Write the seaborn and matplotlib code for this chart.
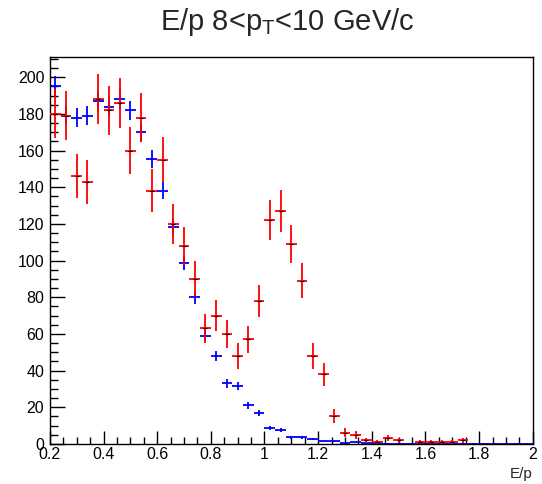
import numpy as np
import pandas as pd
import matplotlib
matplotlib.use("Agg")
import matplotlib.pyplot as plt
import seaborn as sns

# -------------------------------
# Data
# -------------------------------
bin_width = 0.04
bin_centers = np.round(np.arange(0.22, 2.0, bin_width), 2)   # 45 bins, 0.2 -> 2.0

# red: raw counts, sqrt(N) errors
red_counts = [180, 179, 146, 143, 188, 182, 186, 160, 178, 138,
              155, 120, 108, 90, 63, 70, 60, 48, 57, 78,
              122, 127, 109, 89, 48, 38, 15, 6, 5, 2,
              1, 3, 2, 0, 1, 1, 1, 1, 2, 0,
              0, 0, 0, 0, 0]
red_errors = [13.4, 13.4, 12.1, 12.0, 13.7, 13.5, 13.6, 12.6, 13.3, 11.7,
              12.4, 11.0, 10.4, 9.5, 7.9, 8.4, 7.7, 6.9, 7.5, 8.8,
              11.0, 11.3, 10.4, 9.4, 6.9, 6.2, 3.9, 2.4, 2.2, 1.4,
              1.0, 1.7, 1.4, 0.0, 1.0, 1.0, 1.0, 1.0, 1.4, 0.0,
              0.0, 0.0, 0.0, 0.0, 0.0]

# blue: scaled histogram
blue_counts = [195, 179, 178, 179, 187, 184, 188, 182, 170, 155.5,
               138, 118.5, 98.5, 80, 59, 48, 33, 31.6, 21, 17,
               8.7, 7.3, 3.6, 3.6, 2.5, 1.3, 1.3, 0.3, 0.8, 0.2,
               0.2, 0.15, 0.15, 0.15, 0.15, 0.15, 0.15, 0.15, 0.15, 0.15,
               0.15, 0.15, 0.15, 0.15, 0.15]
blue_errors = [5.5, 5.2, 5.2, 5.2, 5.4, 5.3, 5.4, 5.3, 5.1, 4.9,
               4.6, 4.3, 3.9, 3.5, 3.0, 2.7, 2.3, 2.2, 1.8, 1.6,
               1.2, 1.1, 0.7, 0.7, 0.6, 0.4, 0.4, 0.2, 0.35, 0.2,
               0.2, 0.15, 0.15, 0.15, 0.15, 0.15, 0.15, 0.15, 0.15, 0.15,
               0.15, 0.15, 0.15, 0.15, 0.15]

df = pd.DataFrame({
    "Ep": bin_centers,
    "red": red_counts, "red_err": red_errors,
    "blue": blue_counts, "blue_err": blue_errors,
})
red_df = df[df["red"] > 0]

# -------------------------------
# Plot
# -------------------------------
sns.set_style("ticks")
plt.rcParams["font.family"] = ["Liberation Sans", "DejaVu Sans"]
plt.rcParams["mathtext.fontset"] = "custom"
plt.rcParams["mathtext.rm"] = "Liberation Sans"
plt.rcParams["mathtext.it"] = "Liberation Sans"

fig = plt.figure(figsize=(5.42, 4.84), dpi=100)
ax = fig.add_axes([0.092, 0.083, 0.891, 0.799])

ax.errorbar(df["Ep"], df["blue"], xerr=bin_width / 2, yerr=df["blue_err"],
            fmt="none", ecolor="#0000ff", elinewidth=1.3, capsize=0, zorder=2)
ax.errorbar(red_df["Ep"], red_df["red"], xerr=bin_width / 2, yerr=red_df["red_err"],
            fmt="none", ecolor="#ff0000", elinewidth=1.3, capsize=0, zorder=3)
# small black markers at bin centres (ROOT default marker)
sns.scatterplot(data=red_df, x="Ep", y="red", marker="_", color="black",
                s=12, linewidth=0.8, ax=ax, zorder=4, legend=False)

ax.set_xlim(0.2, 2.0)
ax.set_ylim(0, 211)
ax.set_xticks(np.arange(0.2, 2.01, 0.2))
ax.set_xticklabels(["0.2", "0.4", "0.6", "0.8", "1", "1.2", "1.4", "1.6", "1.8", "2"])
ax.set_xticks(np.arange(0.2, 2.01, 0.05), minor=True)
ax.set_yticks(np.arange(0, 201, 20))
ax.set_yticks(np.arange(0, 211, 5), minor=True)

ax.tick_params(axis="both", which="both", direction="in", labelsize=11.5,
               colors="black", width=1.0)
ax.tick_params(axis="y", which="major", length=11, pad=4)
ax.tick_params(axis="y", which="minor", length=6)
ax.tick_params(axis="x", which="major", length=9.5, pad=2)
ax.tick_params(axis="x", which="minor", length=5)
for side in ["top", "right", "bottom", "left"]:
    ax.spines[side].set_visible(True)
    ax.spines[side].set_linewidth(1.0)
    ax.spines[side].set_color("black")

ax.set_xlabel("")
ax.set_ylabel("")

fig.text(0.53, 0.938, r"E/p 8<p$_{\mathrm{T}}$<10 GeV/c", ha="center", va="baseline",
         fontsize=21)
fig.text(0.982, 0.021, "E/p", ha="right", va="center", fontsize=11)

fig.savefig("out.png", dpi=100)
